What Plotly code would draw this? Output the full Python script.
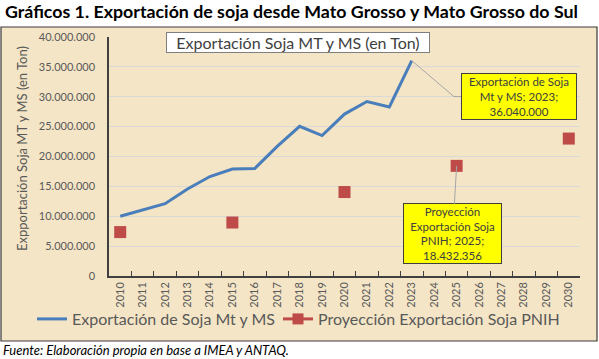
import plotly.graph_objects as go

years = [str(y) for y in range(2010, 2031)]
export_years = [str(y) for y in range(2010, 2024)]
export_values = [10000000, 11000000, 12100000, 14550000, 16650000, 17900000, 18000000,
                 21700000, 25050000, 23500000, 27100000, 29200000, 28300000, 36040000]
proj_years = ["2010", "2015", "2020", "2025", "2030"]
proj_values = [7350000, 8950000, 14050000, 18432356, 23000000]

FONT = "Lato"
GREY = "#595959"
RED = "#BE4B48"
W, H = 599, 359
L, R, T, B = 109, 19, 37, 83
pw, ph = W - L - R, H - T - B

def px(x):
    return (x - L) / pw

def py(y):
    return (H - B - y) / ph

fig = go.Figure()
fig.add_trace(go.Scatter(x=export_years, y=export_values, mode="lines",
                         name="Exportación de Soja Mt y MS", legend="legend",
                         line=dict(color="#4A7EBB", width=3)))
fig.add_trace(go.Scatter(x=proj_years, y=proj_values, mode="markers",
                         name="Proyección Exportación Soja PNIH", showlegend=False,
                         marker=dict(symbol="square", size=12, color=RED)))
# legend entry (line + marker look, as in the original legend)
fig.add_trace(go.Scatter(x=[None], y=[None], mode="lines+markers",
                         name="Proyección Exportación Soja PNIH", legend="legend2",
                         line=dict(color=RED, width=3),
                         marker=dict(symbol="square", size=11, color=RED)))

peak_idx = years.index(export_years[-1])
peak_y = export_values[-1]
proj_idx = years.index(proj_years[3])

shapes = [
    dict(type="rect", xref="paper", yref="paper", x0=px(1), x1=px(597), y0=py(341), y1=py(27),
         fillcolor="#F4E5C6", line=dict(color="#3a3a3a", width=1.2), layer="below"),
    dict(type="line", xref="x", yref="y", x0=peak_idx, y0=peak_y, x1=peak_idx + 1.88, y1=30030000,
         line=dict(color="#A6A6A6", width=1)),
    dict(type="line", xref="x", yref="y", x0=peak_idx + 1.88, y0=30030000, x1=peak_idx + 2.2,
         y1=30030000, line=dict(color="#A6A6A6", width=1)),
]

annotations = [
    dict(text="Exportación Soja MT y MS (en Ton)", xref="paper", yref="paper",
         x=px(298), y=py(42.5), xanchor="center", yanchor="middle", showarrow=False,
         font=dict(family=FONT, size=16, color="#404040"),
         bgcolor="white", bordercolor="#7f7f7f", borderwidth=1, borderpad=0, width=262, height=19),
    dict(text="Exportación de Soja<br>Mt y MS; 2023;<br>36.040.000", xref="paper", yref="paper",
         x=px(519), y=py(96.5), xanchor="center", yanchor="middle", showarrow=False,
         font=dict(family=FONT, size=11.5, color="#404040"),
         bgcolor="#FFFF00", bordercolor="#404040", borderwidth=1, borderpad=0, width=114, height=45),
    dict(text="Proyección<br>Exportación Soja<br>PNIH; 2025;<br>18.432.356", xref="x", yref="y",
         x=proj_idx, y=proj_values[3], ax=-4, ay=68, showarrow=True, arrowhead=0,
         arrowcolor="#A6A6A6", arrowwidth=1, font=dict(family=FONT, size=11.5, color="#404040"),
         bgcolor="#FFFF00", bordercolor="#404040", borderwidth=1, borderpad=0, width=97, height=59),
    dict(text="Expportación Soja MT y MS (en Ton)", xref="paper", yref="paper",
         x=px(22), y=py(149), xanchor="center", yanchor="middle", textangle=-90, showarrow=False,
         font=dict(family=FONT, size=13, color=GREY)),
    dict(text="<i>Fuente: Elaboración propia en base a IMEA y ANTAQ.</i>", xref="paper", yref="paper",
         x=px(1), y=py(350), xanchor="left", yanchor="middle", showarrow=False,
         font=dict(family=FONT, size=13, color="#000000")),
]

legend_common = dict(orientation="h", xref="container", yref="container",
                     y=1 - 319 / H, yanchor="middle", xanchor="left",
                     font=dict(family=FONT, size=16, color=GREY), bgcolor="rgba(0,0,0,0)",
                     itemwidth=30, tracegroupgap=0, borderwidth=0)

fig.update_layout(
    width=W, height=H,
    margin=dict(l=L, r=R, t=T, b=B, pad=0, autoexpand=False),
    paper_bgcolor="white", plot_bgcolor="white",
    separators=",.",
    title=dict(text="<b>Gráficos 1. Exportación de soja desde Mato Grosso y Mato Grosso do Sul</b>",
               x=5 / W, xanchor="left", y=1 - 12 / H, yanchor="middle",
               font=dict(family=FONT, size=17.8, color="#000000")),
    font=dict(family=FONT, color=GREY),
    showlegend=True,
    legend=dict(legend_common, x=32 / W),
    legend2=dict(legend_common, x=278 / W),
    shapes=shapes,
    annotations=annotations,
)
fig.update_xaxes(type="category", categoryorder="array", categoryarray=years,
                 range=[-0.5, 20.5], tickson="boundaries", ticks="inside", ticklen=5,
                 tickcolor="#404040", tickangle=-90, showline=True, linecolor="#404040",
                 linewidth=1.5, showgrid=False, tickfont=dict(family=FONT, size=11, color=GREY))
fig.update_yaxes(range=[0, 40000000], dtick=5000000, tickformat=",d", showgrid=True,
                 gridcolor="#D9D9D9", gridwidth=1, showline=True, linecolor="#404040",
                 linewidth=1.5, ticks="", ticklabelstandoff=10, zeroline=False,
                 tickfont=dict(family=FONT, size=11, color=GREY))

fig.write_html("out.html", config={"displayModeBar": False},
               post_script="document.body.style.margin='0';")
